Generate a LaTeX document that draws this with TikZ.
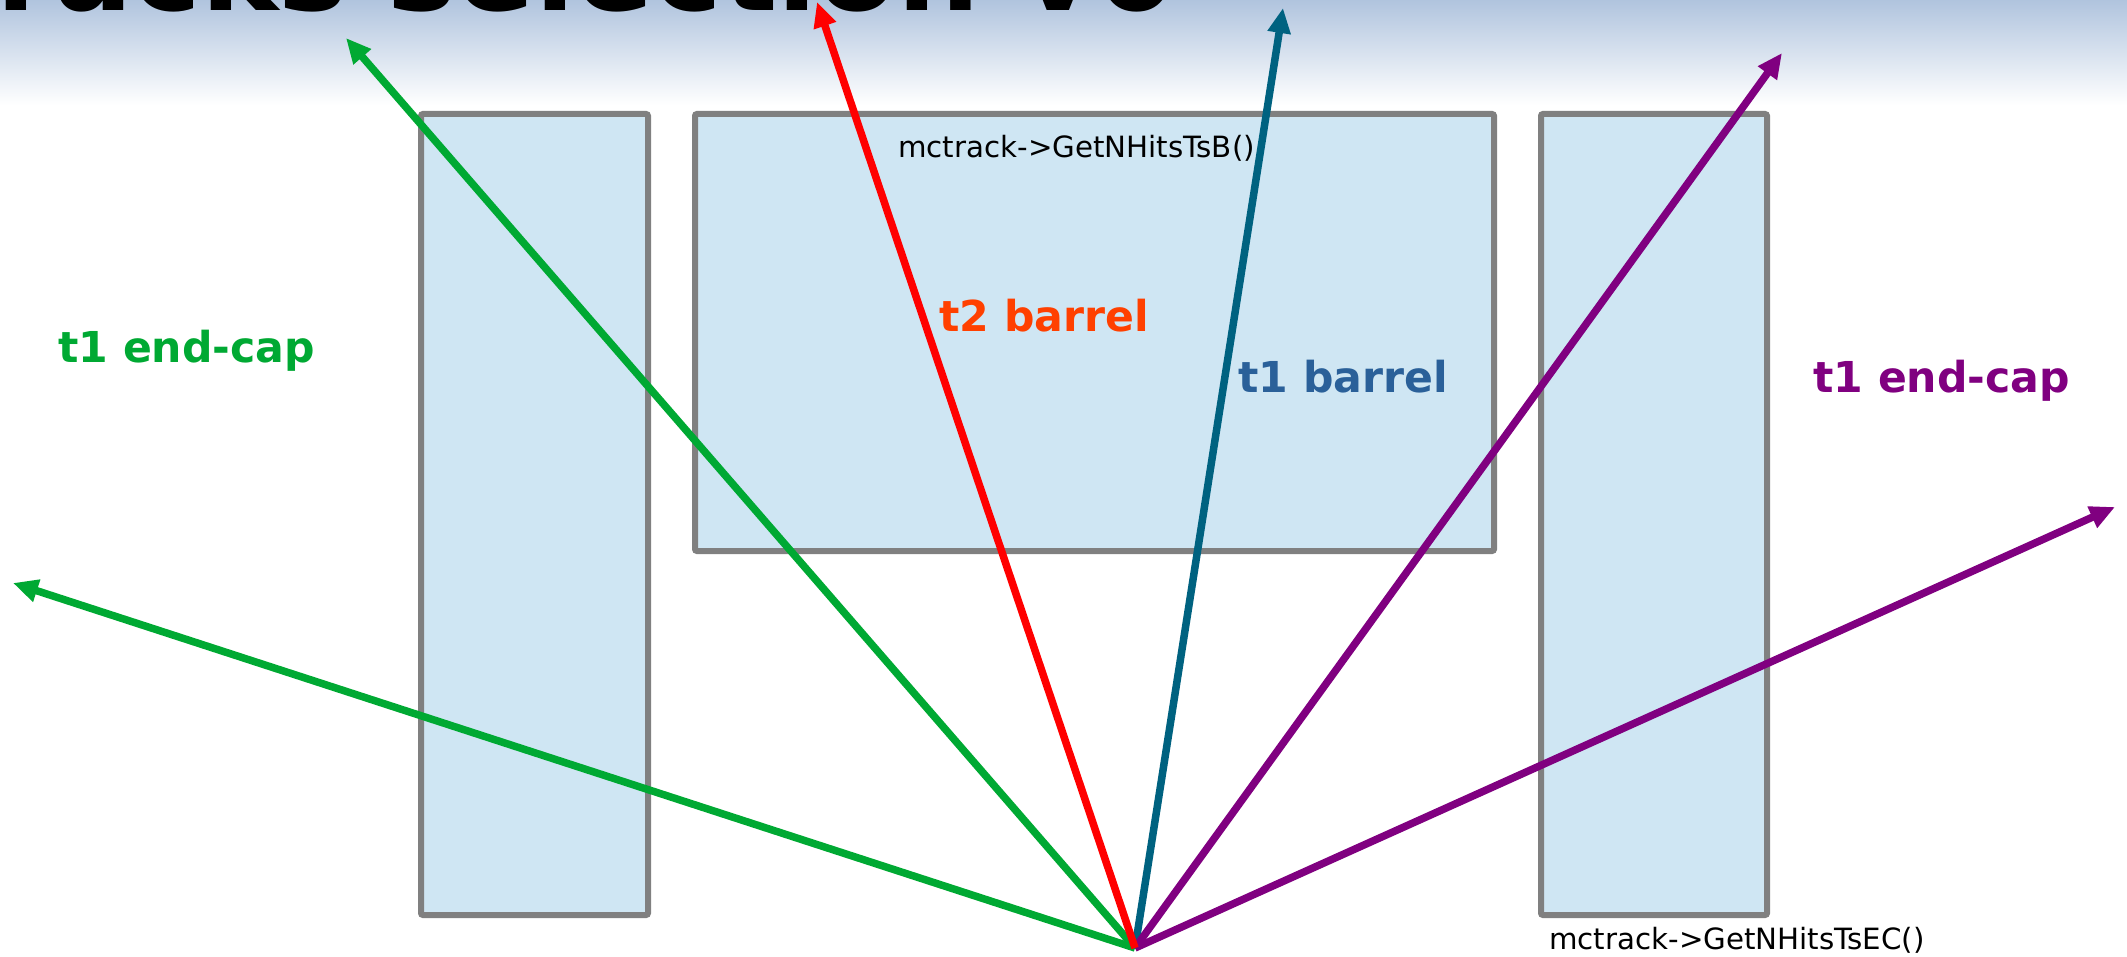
\documentclass[tikz,border=0pt]{standalone}
\usepackage{fontspec}
\setmainfont{DejaVu Sans}
\usetikzlibrary{arrows.meta}
\definecolor{steelbg}{RGB}{176,196,222}
\definecolor{boxfill}{RGB}{207,230,243}
\definecolor{boxline}{RGB}{128,128,128}
\definecolor{trkgreen}{RGB}{0,169,51}
\definecolor{trkred}{RGB}{255,0,0}
\definecolor{trkteal}{RGB}{0,98,128}
\definecolor{trkpurple}{RGB}{128,0,128}
\definecolor{lblorange}{RGB}{255,64,0}
\definecolor{lblblue}{RGB}{42,96,153}
\begin{document}
\begin{tikzpicture}[x=1pt,y=-1pt,
  detbox/.style={draw=boxline, fill=boxfill, line width=6pt, rounded corners=2pt, inner sep=0pt, outer sep=0pt},
  track/.style={line width=7.5pt, -{Triangle[length=25pt,width=22pt]}},
  biglabel/.style={anchor=base west, inner sep=0pt, font=\bfseries\fontsize{42.6}{50}\selectfont},
  codelabel/.style={anchor=base west, inner sep=0pt, font=\fontsize{29.3}{34}\selectfont, text=black}]
\useasboundingbox (0,0) rectangle (2127,957);
\fill[white] (0,0) rectangle (2127,957);
\shade[top color=steelbg, bottom color=white] (0,0) rectangle (2127,105);
\begin{scope}
\clip (0,0) rectangle (2127,957);
\node[anchor=base east, inner sep=0pt, font=\bfseries\fontsize{116}{120}\selectfont] (title) at (1177,11) {Tracks selection v0};
\end{scope}
% detector boxes
\node[detbox, minimum width=227pt, minimum height=801pt] (lec) at (534.5,514.5) {};
\node[detbox, minimum width=799pt, minimum height=437pt] (bar) at (1094.5,332.5) {};
\node[detbox, minimum width=226pt, minimum height=801pt] (rec) at (1654,514.5) {};
% labels
\node[codelabel] (lblB) at (898,158) {mctrack->GetNHitsTsB()};
\node[codelabel] (lblEC) at (1549,949) {mctrack->GetNHitsTsEC()};
\node[biglabel, text=trkgreen] (lgec) at (58,362) {t1 end-cap};
\node[biglabel, text=trkpurple] (lpec) at (1813,392) {t1 end-cap};
\node[biglabel, text=lblorange] (lt2) at (939,331) {t2 barrel};
\node[biglabel, text=lblblue] (lt1) at (1238,392) {t1 barrel};
% tracks
\coordinate (O) at (1135,948);
\coordinate (gl) at (13,583);
\coordinate (gu) at (346,38);
\coordinate (rt) at (817,2);
\coordinate (tt) at (1283,8);
\coordinate (pu) at (1782,53);
\coordinate (pr) at (2115,507);
\draw[track, trkgreen] (O) -- (gl);
\draw[track, trkgreen] (O) -- (gu);
\draw[track, trkteal] (O) -- (tt);
\draw[track, trkpurple] (O) -- (pu);
\draw[track, trkpurple] (O) -- (pr);
\draw[track, trkred] (O) -- (rt);
\end{tikzpicture}
\end{document}
